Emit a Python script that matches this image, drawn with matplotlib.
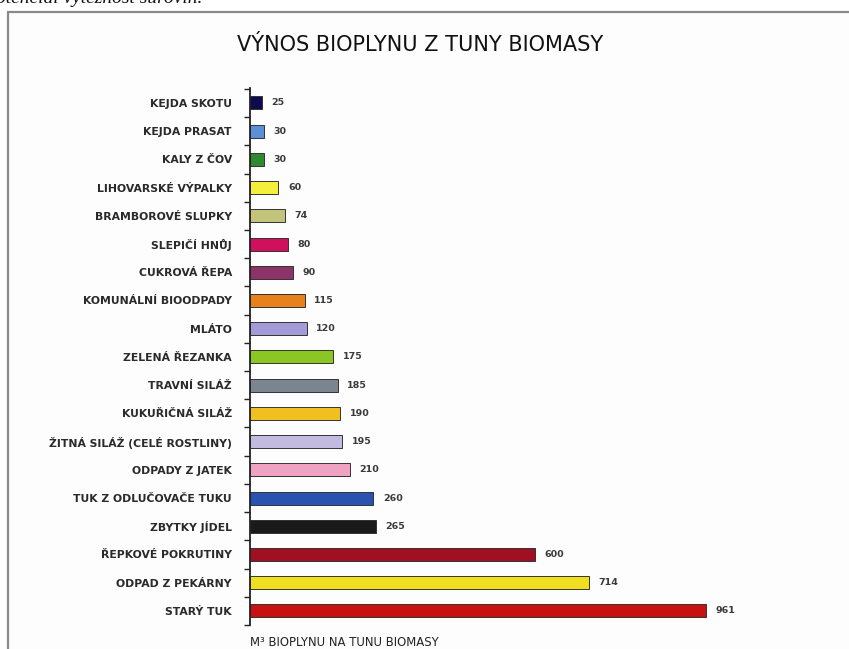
import numpy as np
import matplotlib.pyplot as plt
from matplotlib.patches import Rectangle

# data (top to bottom)
suroviny = ['KEJDA SKOTU', 'KEJDA PRASAT', 'KALY Z ČOV', 'LIHOVARSKÉ VÝPALKY',
            'BRAMBOROVÉ SLUPKY', 'SLEPIČÍ HNŮJ', 'CUKROVÁ ŘEPA', 'KOMUNÁLNÍ BIOODPADY',
            'MLÁTO', 'ZELENÁ ŘEZANKA', 'TRAVNÍ SILÁŽ', 'KUKUŘIČNÁ SILÁŽ',
            'ŽITNÁ SILÁŽ (CELÉ ROSTLINY)', 'ODPADY Z JATEK', 'TUK Z ODLUČOVAČE TUKU',
            'ZBYTKY JÍDEL', 'ŘEPKOVÉ POKRUTINY', 'ODPAD Z PEKÁRNY', 'STARÝ TUK']
vynos = [25, 30, 30, 60, 74, 80, 90, 115, 120, 175, 185, 190, 195, 210, 260, 265, 600, 714, 961]
barvy = ['#0b0b4e', '#5b8fd6', '#2f8a2f', '#f4ee3c', '#c2c47c', '#d0105c', '#8c3468',
         '#e8801c', '#a29bd8', '#8cc622', '#7b858f', '#f0c020', '#c2badf', '#f0a2c2',
         '#2a52b0', '#1a1a1a', '#a01022', '#f0df20', '#c81212']

titulek = 'VÝNOS BIOPLYNU Z TUNY BIOMASY'
osa_x = 'M³ BIOPLYNU NA TUNU BIOMASY'

W, H = 849, 649
fig = plt.figure(figsize=(W/100, H/100), dpi=100)

# background: frame of the embedded picture
bg = fig.add_axes([0, 0, 1, 1], zorder=-1)
bg.set_xlim(0, W)
bg.set_ylim(H, 0)
bg.axis('off')
bg.add_patch(Rectangle((8, 12), W, H, facecolor='#fdfdfd', edgecolor='#8a8a8a',
                       linewidth=1.6))
# cropped line of the document above the chart
bg.text(-4, 3, 'otenciál výtěžnost surovin.', family='Liberation Serif',
        style='italic', fontsize=14, ha='left', va='baseline', color='#111')

ax = fig.add_axes([250/W, 1 - 625/H, 517/W, (625 - 88)/H])
ax.patch.set_alpha(0)
y = np.arange(len(suroviny))
ax.barh(y, vynos, height=0.46, color=barvy, edgecolor='#333333', linewidth=0.7)
for yi, v in zip(y, vynos):
    ax.text(v + 20, yi, str(v), va='center', ha='left', fontsize=6.8,
            fontweight='semibold', color='#3a3a3a')

ax.set_xlim(0, 1090)
ax.set_ylim(len(suroviny) - 0.58, -0.53)
ax.set_yticks(y)
ax.set_yticklabels(suroviny, fontsize=7.8, fontweight='semibold', color='#2a2a2a')
ax.tick_params(axis='y', length=0, pad=13)
ax.set_yticks(np.arange(len(suroviny) + 1) - 0.5, minor=True)
ax.tick_params(axis='y', which='minor', length=4, width=1, color='#222')
ax.set_xticks([])
for s in ['top', 'right', 'bottom']:
    ax.spines[s].set_visible(False)
ax.spines['left'].set_linewidth(1.3)
ax.spines['left'].set_color('#222')

bg.text(420, 45, titulek, ha='center', va='center', fontsize=15, color='#111')
bg.text(250, 643, osa_x, ha='left', va='center', fontsize=8.4, color='#222')

fig.savefig('out.png', dpi=100)
